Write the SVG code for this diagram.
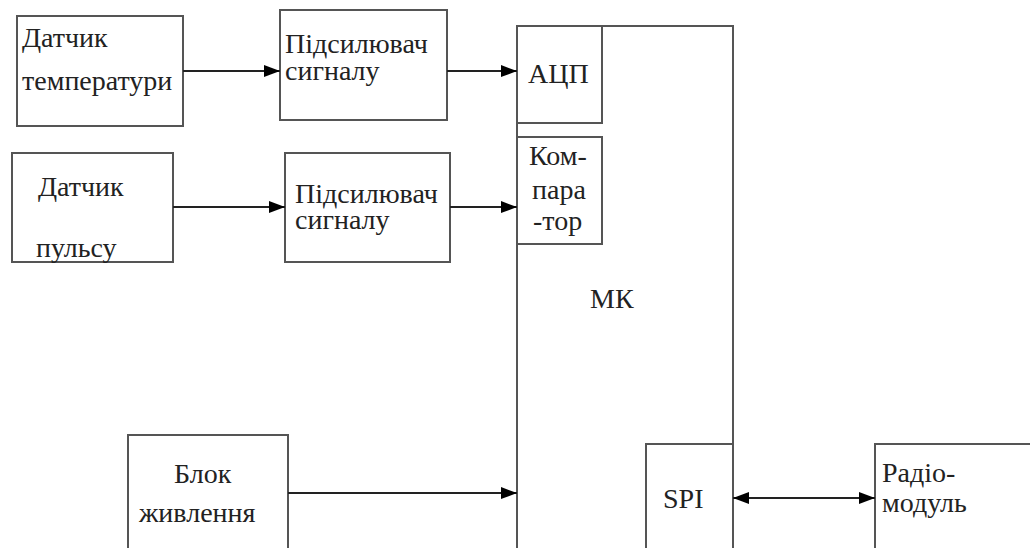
<svg xmlns="http://www.w3.org/2000/svg" xml:lang="uk" width="1030" height="548" viewBox="0 0 1030 548">
<defs>
<marker id="a" markerWidth="16" markerHeight="12" refX="16" refY="6" orient="auto" markerUnits="userSpaceOnUse"><path d="M0,0L16,6L0,12Z" fill="#000"/></marker>
<marker id="s" markerWidth="16" markerHeight="12" refX="0" refY="6" orient="auto" markerUnits="userSpaceOnUse"><path d="M16,0L0,6L16,12Z" fill="#000"/></marker>
</defs>
<rect width="1030" height="548" fill="#fff"/>
<g id="nodes" font-family="Liberation Serif, Tinos, FreeSerif, DejaVu Serif, serif" font-size="28" fill="#222">
<g id="mk"><rect fill="#fff" stroke="#555" stroke-width="2" x="517" y="26" width="216" height="540"/><text x="590" y="308">МК</text></g>
<g id="adc"><rect fill="#fff" stroke="#555" stroke-width="2" x="517" y="26" width="85" height="97"/><text x="528" y="83">АЦП</text></g>
<g id="comp"><rect fill="#fff" stroke="#555" stroke-width="2" x="517" y="137" width="85" height="107"/><text x="529" y="165">Ком-</text><text x="532" y="199">пара</text><text x="533" y="230">-тор</text></g>
<g id="spi"><rect fill="#fff" stroke="#555" stroke-width="2" x="646" y="444" width="87" height="120"/><text x="663" y="508">SPI</text></g>
<g id="temp"><rect fill="#fff" stroke="#555" stroke-width="2" x="17" y="16" width="166" height="110"/><text x="22" y="47">Датчик</text><text x="22" y="90">температури</text></g>
<g id="amp1"><rect fill="#fff" stroke="#555" stroke-width="2" x="280" y="10" width="167" height="110"/><text x="285" y="53">Підсилювач</text><text x="285" y="80">сигналу</text></g>
<g id="pulse"><rect fill="#fff" stroke="#555" stroke-width="2" x="12" y="153" width="161" height="109"/><text x="38" y="196">Датчик</text><text x="36" y="257">пульсу</text></g>
<g id="amp2"><rect fill="#fff" stroke="#555" stroke-width="2" x="285" y="153" width="165" height="109"/><text x="295" y="203">Підсилювач</text><text x="295" y="229">сигналу</text></g>
<g id="power"><rect fill="#fff" stroke="#555" stroke-width="2" x="128" y="435" width="160" height="130"/><text x="174" y="483">Блок</text><text x="139" y="522">живлення</text></g>
<g id="radio"><rect fill="#fff" stroke="#555" stroke-width="2" x="875" y="444" width="170" height="120"/><text x="882" y="482">Радіо-</text><text x="882" y="512">модуль</text></g>
</g>
<g id="connectors" stroke="#222" stroke-width="2" fill="none">
<line x1="183" y1="71" x2="280" y2="71" marker-end="url(#a)"/>
<line x1="447" y1="71" x2="517" y2="71" marker-end="url(#a)"/>
<line x1="173" y1="207" x2="285" y2="207" marker-end="url(#a)"/>
<line x1="450" y1="207" x2="517" y2="207" marker-end="url(#a)"/>
<line x1="288" y1="493" x2="517" y2="493" marker-end="url(#a)"/>
<line x1="733" y1="498" x2="875" y2="498" marker-start="url(#s)" marker-end="url(#a)"/>
</g>
</svg>
